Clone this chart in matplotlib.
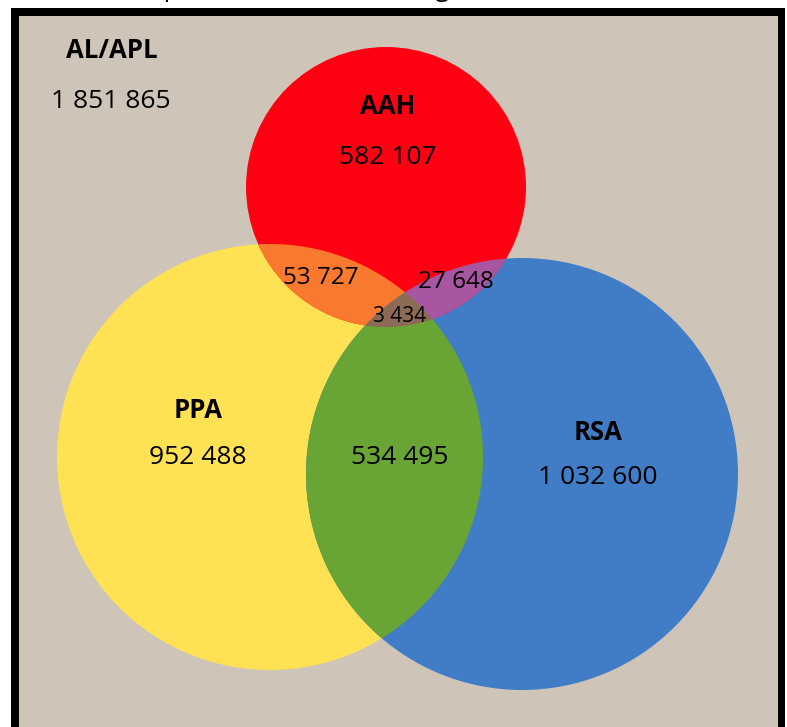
import numpy as np
import matplotlib
matplotlib.use("Agg")
import matplotlib.pyplot as plt
from matplotlib.patches import Circle, Polygon, Rectangle

plt.rcParams['font.family'] = ['Open Sans', 'DejaVu Sans']

# ---- data ----
set_names = ["AAH", "PPA", "RSA"]
only_counts = [582107, 952488, 1032600]
outside_label = "AL/APL"
outside_count = 1851865
pair_labels = ["AAH∩PPA", "AAH∩RSA", "PPA∩RSA"]
pair_counts = [53727, 27648, 534495]
triple_count = 3434
title_text = "Nombre de personnes et aide au logement"

# ---- layout (pixel coordinates) ----
W, H = 787, 727
circles = {
    "AAH": ((386, 187), 140),
    "PPA": ((270, 457), 213),
    "RSA": ((522, 474), 216),
}
colors = {"AAH": "#FF0013", "PPA": "#FFE253", "RSA": "#407DC6"}
pair_colors = {("AAH", "PPA"): "#F97A2E", ("AAH", "RSA"): "#A856A2",
               ("PPA", "RSA"): "#69A534"}
triple_color = "#8C6A55"
bg = "#CFC4B8"


def fmt(n):
    return f"{n:,}".replace(",", " ")


def inside(p, name):
    (cx, cy), r = circles[name]
    return (p[:, 0] - cx) ** 2 + (p[:, 1] - cy) ** 2 <= r ** 2 + 1e-6


def intersection_polygon(names, n=4000):
    pts = []
    for nm in names:
        (cx, cy), r = circles[nm]
        t = np.linspace(0, 2 * np.pi, n, endpoint=False)
        p = np.column_stack([cx + r * np.cos(t), cy + r * np.sin(t)])
        mask = np.ones(len(p), bool)
        for other in names:
            if other != nm:
                mask &= inside(p, other)
        pts.append(p[mask])
    pts = np.vstack(pts)
    c = pts.mean(axis=0)
    ang = np.arctan2(pts[:, 1] - c[1], pts[:, 0] - c[0])
    return pts[np.argsort(ang)]


fig = plt.figure(figsize=(W / 100, H / 100), dpi=100)
ax = fig.add_axes([0, 0, 1, 1])
ax.set_xlim(0, W)
ax.set_ylim(H, 0)
ax.axis("off")

# frame
ax.add_patch(Rectangle((11, 8), 774, 740, facecolor="black", edgecolor="none", zorder=0))
ax.add_patch(Rectangle((19, 16), 759, 740, facecolor=bg, edgecolor="none", zorder=0.5))

# single circles
for nm in ["PPA", "RSA", "AAH"]:
    (cx, cy), r = circles[nm]
    ax.add_patch(Circle((cx, cy), r, facecolor=colors[nm], edgecolor="none", zorder=1))

# pairwise intersections
for (a, b), col in pair_colors.items():
    poly = intersection_polygon([a, b])
    ax.add_patch(Polygon(poly, closed=True, facecolor=col, edgecolor="none", zorder=2))

# triple
poly = intersection_polygon(["AAH", "PPA", "RSA"])
ax.add_patch(Polygon(poly, closed=True, facecolor=triple_color, edgecolor="none", zorder=3))

# texts
big = 19
lab = 18.5
ax.text(112, 50, outside_label, fontsize=lab, fontweight="bold", ha="center", va="center", zorder=5)
ax.text(111, 101, fmt(outside_count), fontsize=big, ha="center", va="center", zorder=5)

name_pos = {"AAH": (388, 107), "PPA": (198, 410), "RSA": (598, 432)}
count_pos = {"AAH": (388, 157), "PPA": (198, 457), "RSA": (598, 478)}
for nm, cnt in zip(set_names, only_counts):
    ax.text(*name_pos[nm], nm, fontsize=lab, fontweight="bold", ha="center", va="center", zorder=5)
    ax.text(*count_pos[nm], fmt(cnt), fontsize=big, ha="center", va="center", zorder=5)

pair_pos = [(321, 278), (456, 282), (400, 457)]
pair_sizes = [17.5, 17.5, big]
for (x, y), cnt, fs in zip(pair_pos, pair_counts, pair_sizes):
    ax.text(x, y, fmt(cnt), fontsize=fs, ha="center", va="center", zorder=5)

ax.text(400, 317, fmt(triple_count), fontsize=15, ha="center", va="center", zorder=5)

# clipped caption at top
ax.text(25, -4, title_text, fontsize=18, ha="left", va="baseline", color="black", zorder=5)

fig.savefig("out.png", dpi=100, facecolor="white")
